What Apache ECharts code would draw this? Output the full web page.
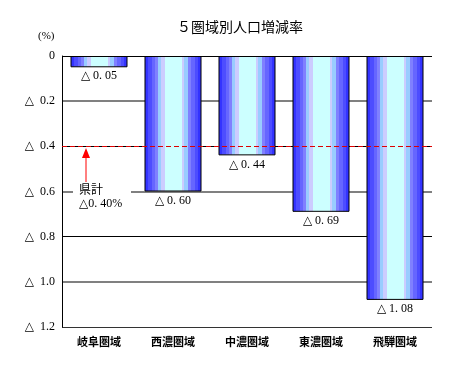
<!DOCTYPE html>
<html><head><meta charset="utf-8">
<script src="https://cdn.jsdelivr.net/npm/echarts@6/dist/echarts.min.js"></script>
<style>html,body{margin:0;padding:0;background:#fff}#c{width:459px;height:378px}</style>
</head><body><div id="c"></div>
<script>
var categories = ['岐阜圏域', '西濃圏域', '中濃圏域', '東濃圏域', '飛騨圏域'];
var values = [0.05, 0.60, 0.44, 0.69, 1.08];
var prefTotal = 0.40;
var yTicks = [0, 0.2, 0.4, 0.6, 0.8, 1.0, 1.2];

var stops = [
  ['#3333ff',0],['#3333ff',0.07],['#4d4dff',0.07],['#4d4dff',0.13],['#6666ff',0.13],['#6666ff',0.18],
  ['#8080ff',0.18],['#8080ff',0.23],['#99ccff',0.23],['#99ccff',0.29],['#ccccff',0.29],['#ccccff',0.36],
  ['#ccffff',0.36],['#ccffff',0.655],['#ccccff',0.655],['#ccccff',0.70],['#99ccff',0.70],['#99ccff',0.76],
  ['#8080ff',0.76],['#8080ff',0.82],['#6666ff',0.82],['#6666ff',0.88],['#4d4dff',0.88],['#4d4dff',0.94],
  ['#3333ff',0.94],['#3333ff',1]
].map(function(s){return {offset:s[1], color:s[0]};});

var chart = echarts.init(document.getElementById('c'));
var serif = "'Liberation Serif','DejaVu Serif','Noto Sans CJK JP',serif";
var gothic = "'Noto Sans CJK JP',sans-serif";
var T = 'transparent';
var baseY = {type: 'value', inverse: true, min: yTicks[0], max: yTicks[yTicks.length - 1], interval: 0.2, axisTick: {show: false}};
chart.setOption({
  animation: false,
  title: {text: '５圏域別人口増減率', left: 235, top: 15, textAlign: 'center',
    textStyle: {fontFamily: gothic, fontSize: 14, fontWeight: 'normal', color: '#000'}},
  graphic: [
    {type: 'text', left: 38, top: 31, style: {text: '(%)', font: '11px ' + serif, fill: '#000'}},
    {type: 'line', shape: {x1: 86, y1: 182, x2: 86, y2: 156}, style: {stroke: '#ff0000', lineWidth: 1}, z: 100},
    {type: 'polygon', shape: {points: [[86, 148], [82, 158], [90, 158]]}, style: {fill: '#ff0000'}, z: 100},
    {type: 'rect', shape: {x: 73, y: 184, width: 58, height: 26}, style: {fill: '#fff'}, z: 90},
    {type: 'text', left: 79, top: 183, style: {text: '県計', font: '12px ' + gothic, fill: '#000'}, z: 100},
    {type: 'text', left: 79, top: 198, style: {text: '△0. 40%', font: '12px ' + serif, fill: '#000'}, z: 100}
  ],
  grid: {left: 62, right: 27, top: 56, bottom: 51},
  xAxis: {type: 'category', data: categories,
    axisLine: {show: false}, axisTick: {show: false},
    axisLabel: {margin: 9, fontFamily: gothic, fontSize: 11, fontWeight: 'bold', color: '#000'}},
  yAxis: [
    Object.assign({}, baseY, {
      axisLine: {show: true, lineStyle: {color: '#000', width: 1}},
      axisLabel: {margin: 7, fontFamily: serif, fontSize: 12, color: '#000',
        formatter: function(v){ return v === 0 ? '0' : '△  ' + v.toFixed(1); }},
      splitLine: {show: true, lineStyle: {color: [T,'#808080',T,'#808080',T,'#808080',T], width: 2}}}),
    Object.assign({}, baseY, {position: 'left',
      axisLine: {show: false}, axisLabel: {show: false},
      splitLine: {show: true, lineStyle: {color: ['#000',T,'#000',T,'#000',T,'#333'], width: 1}}})
  ],
  series: [{
    type: 'bar', data: values, barWidth: 57,
    itemStyle: {color: new echarts.graphic.LinearGradient(0,0,1,0, stops), borderColor: '#000', borderWidth: 1},
    label: {show: true, position: 'bottom', distance: 3, fontFamily: serif, fontSize: 12, color: '#000',
      formatter: function(p){ return '△ ' + p.value.toFixed(2).replace('.', '. '); }},
    markLine: {silent: true, symbol: 'none', z: 10,
      lineStyle: {color: '#dd0000', type: [5, 3], width: 1},
      label: {show: false},
      data: [{yAxis: prefTotal}]}
  }]
});
</script></body></html>
